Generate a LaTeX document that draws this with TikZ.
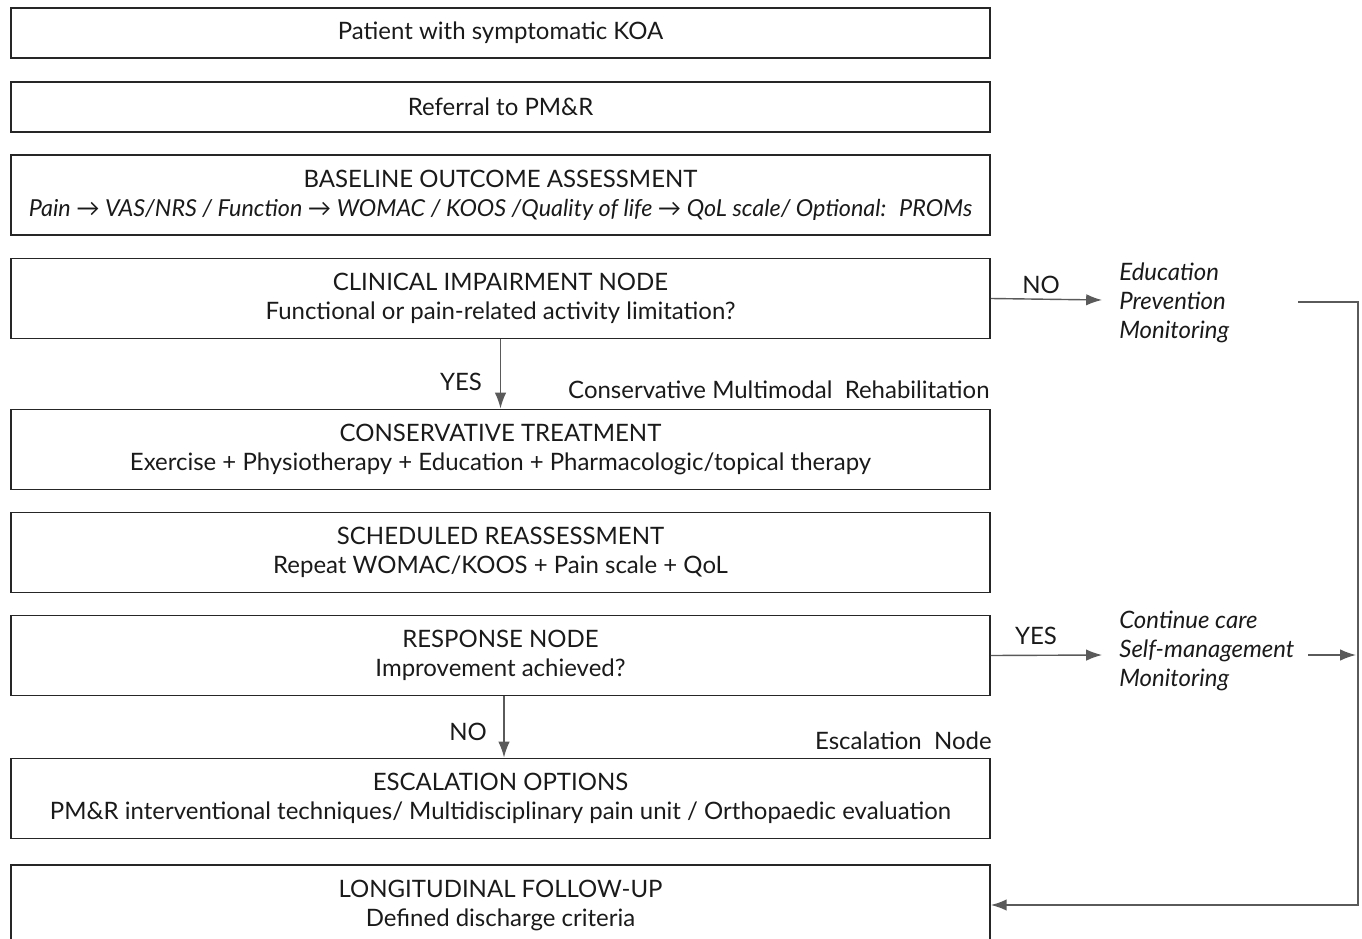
\documentclass[tikz,border=0pt]{standalone}
\usepackage{fontspec}
\setmainfont{Lato}
\usetikzlibrary{arrows.meta}

\definecolor{linegray}{HTML}{5A5A5A}
\definecolor{boxline}{HTML}{262626}
\definecolor{textdark}{HTML}{1A1A1A}

\tikzset{
    stagebox/.style={draw=boxline, line width=1.1pt, minimum width=19.58cm,
        align=center, inner sep=0pt, text=textdark,
        font=\fontsize{13.65}{16.5}\selectfont},
    flowarrow/.style={draw=linegray, line width=0.8pt,
        -{Latex[length=9pt,width=6.5pt]}},
    sidetext/.style={align=left, anchor=west, inner sep=0pt, text=textdark,
        font=\fontsize{13.65}{16.7}\selectfont\itshape},
    tagtext/.style={inner sep=0pt, text=textdark,
        font=\fontsize{13.65}{16.5}\selectfont}
}

\begin{document}
\begin{tikzpicture}[x=0.02cm, y=-0.02cm]
    \useasboundingbox (0,0) rectangle (1362,939);

    \node[stagebox, minimum height=1cm] (v1) at (500.5,33) {Patient with symptomatic KOA};
    \node[stagebox, minimum height=1cm] (v2) at (500.5,107) {Referral to PM\&R};
    \node[stagebox, minimum height=1.6cm] (v3) at (500.5,195) {BASELINE OUTCOME ASSESSMENT\\
        \fontsize{13.3}{16.5}\selectfont\itshape Pain → VAS/NRS / Function → WOMAC / KOOS /Quality of life → QoL scale/ Optional:~ PROMs};
    \node[stagebox, minimum height=1.6cm] (v4) at (500.5,298.5) {CLINICAL IMPAIRMENT NODE\\Functional or pain-related activity limitation?};
    \node[stagebox, minimum height=1.6cm] (v5) at (500.5,449.5) {CONSERVATIVE TREATMENT\\Exercise + Physiotherapy + Education + Pharmacologic/topical therapy};
    \node[stagebox, minimum height=1.6cm] (v6) at (500.5,552.5) {SCHEDULED REASSESSMENT\\Repeat WOMAC/KOOS + Pain scale + QoL};
    \node[stagebox, minimum height=1.6cm] (v7) at (500.5,655.5) {RESPONSE NODE\\Improvement achieved?};
    \node[stagebox, minimum height=1.6cm] (v8) at (500.5,798.5) {ESCALATION OPTIONS\\PM\&R interventional techniques/ Multidisciplinary pain unit / Orthopaedic evaluation};
    \node[stagebox, minimum height=1.6cm] (v9) at (500.5,905) {LONGITUDINAL FOLLOW-UP\\Defined discharge criteria};

    \node[sidetext] (edu) at (1119,303) {Education\\Prevention\\Monitoring};
    \node[sidetext] (cont) at (1119,651) {Continue care\\Self-management\\Monitoring};

    \node[tagtext] (t1) at (461,382) {YES};
    \node[tagtext, anchor=east] (t2) at (990,390) {Conservative Multimodal~ Rehabilitation};
    \node[tagtext] (t3) at (468,732) {NO};
    \node[tagtext, anchor=east] (t4) at (992,741) {Escalation~ Node};
    \node[tagtext] (t5) at (1041,285) {NO};
    \node[tagtext] (t6) at (1036,636) {YES};

    \coordinate (a1) at (1102,300);
    \coordinate (a2) at (1102,655);
    \coordinate (r1) at (1298,302);
    \coordinate (r2) at (1358,905);
    \coordinate (s1) at (1308,655);
    \coordinate (s2) at (1356,655);

    \draw[flowarrow] (v4.south) -- (v5.north);
    \draw[flowarrow] ([xshift=0.07cm]v7.south) -- ([xshift=0.07cm]v8.north);
    \draw[flowarrow] (v4.east) -- (a1);
    \draw[flowarrow] (v7.east) -- (a2);
    \draw[flowarrow] (s1) -- (s2);
    \draw[flowarrow] (r1) -| (r2) -- (v9.east);
\end{tikzpicture}
\end{document}
